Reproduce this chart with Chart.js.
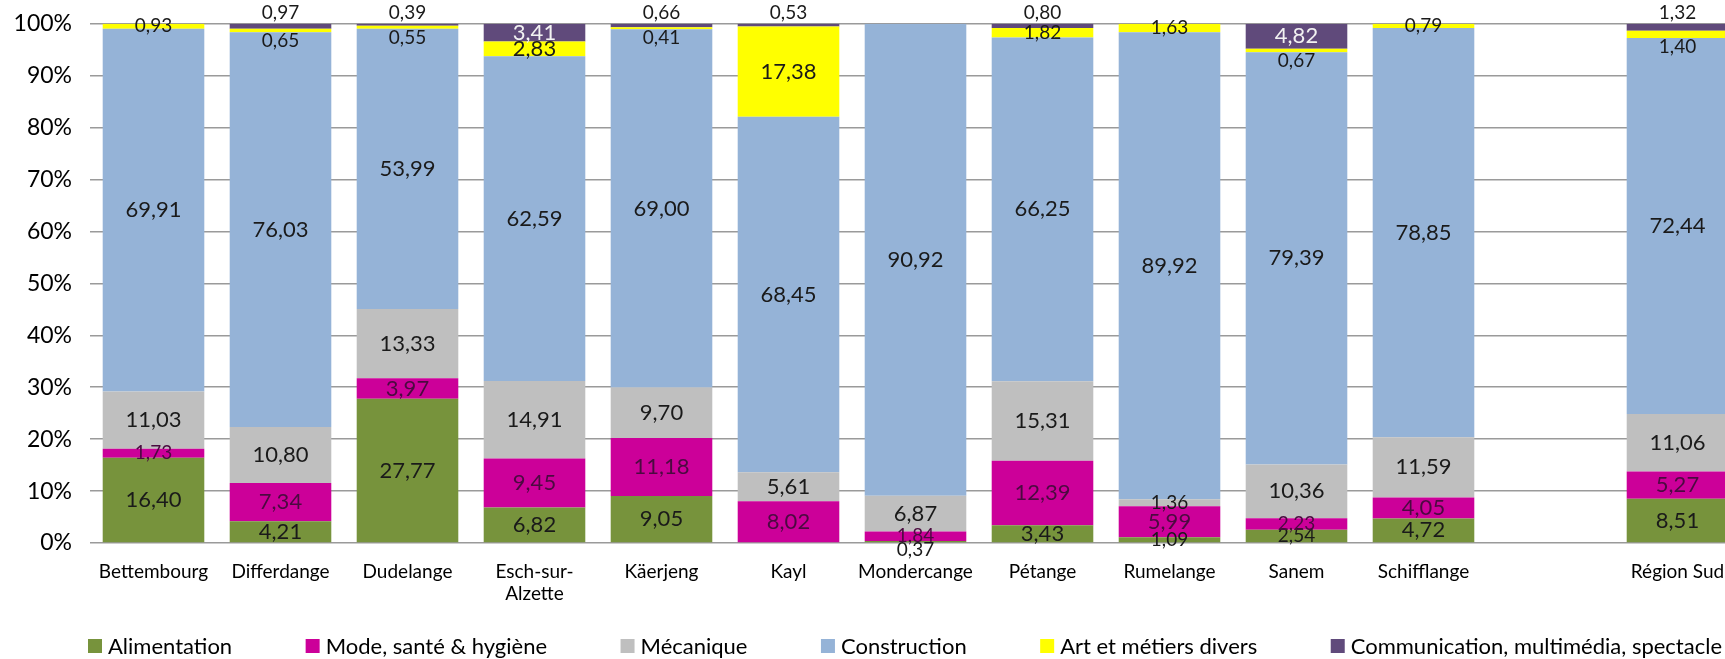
<!DOCTYPE html>
<html><head><meta charset="utf-8">
<script src="https://cdn.jsdelivr.net/npm/chart.js@4.4.1/dist/chart.umd.min.js"></script>
<style>
html,body{margin:0;padding:0;background:#fff;overflow:hidden;}
#wrap{position:absolute;left:0;top:-8px;width:1745px;height:667px;}
</style></head><body>
<div id="wrap"><canvas id="c"></canvas></div>
<script>
const categories = ['Bettembourg','Differdange','Dudelange',['Esch-sur-','Alzette'],'Käerjeng','Kayl','Mondercange','Pétange','Rumelange','Sanem','Schifflange','','Région Sud'];
const seriesNames = ['Alimentation','Mode, santé & hygiène','Mécanique','Construction','Art et métiers divers','Communication, multimédia, spectacle'];
const alimentation  = [16.40, 4.21, 27.77, 6.82, 9.05, 0, 0.37, 3.43, 1.09, 2.54, 4.72, null, 8.51];
const mode          = [1.73, 7.34, 3.97, 9.45, 11.18, 8.02, 1.84, 12.39, 5.99, 2.23, 4.05, null, 5.27];
const mecanique     = [11.03, 10.80, 13.33, 14.91, 9.70, 5.61, 6.87, 15.31, 1.36, 10.36, 11.59, null, 11.06];
const construction  = [69.91, 76.03, 53.99, 62.59, 69.00, 68.45, 90.92, 66.25, 89.92, 79.39, 78.85, null, 72.44];
const art           = [0.93, 0.65, 0.55, 2.83, 0.41, 17.38, 0, 1.82, 1.63, 0.67, 0.79, null, 1.40];
const communication = [0, 0.97, 0.39, 3.41, 0.66, 0.53, 0, 0.80, 0, 4.82, 0, null, 1.32];
const yTicks = [0, 10, 20, 30, 40, 50, 60, 70, 80, 90, 100];

const seriesData = [alimentation, mode, mecanique, construction, art, communication];
const colors = ['#77933c', '#cc0099', '#bfbfbf', '#95b3d7', '#ffff00', '#604a7b'];
const labelColors = ['#1a1a1a', '#4b0a40', '#1a1a1a', '#1a1a1a', '#1a1a1a', '#f2f2f2'];
const FONT = 'Lato, "Open Sans", sans-serif';

const fmt = v => v.toFixed(2).replace('.', ',');

const valuePlugin = {
  id: 'values',
  afterDatasetsDraw(chart) {
    const ctx = chart.ctx;
    chart.data.datasets.forEach((ds, di) => {
      const meta = chart.getDatasetMeta(di);
      meta.data.forEach((bar, j) => {
        const v = ds.data[j];
        if (!v) return;
        const top = Math.min(bar.y, bar.base), bottom = Math.max(bar.y, bar.base);
        let y = (top + bottom) / 2;
        let color = labelColors[di];
        const small = (bottom - top) < 14;
        const size = small ? 19 : 22;
        if (di === 5 && v < 2) { y = top - 11; color = '#1a1a1a'; }
        if (di === 4 && v < 1.5 && communication[j] > 0) { y = bottom + 9; }
        if (di === 0 && v < 0.5) { y = bottom + 8; }
        ctx.save();
        ctx.font = size + 'px ' + FONT;
        ctx.fillStyle = color;
        ctx.textAlign = 'center';
        ctx.textBaseline = 'middle';
        ctx.fillText(fmt(v), bar.x, y);
        ctx.restore();
      });
    });
  }
};

const legendPlugin = {
  id: 'customLegend',
  afterDraw(chart) {
    const ctx = chart.ctx;
    const box = 14, boxGap = 6, startX = 88, endX = 1722, cy = 654;
    ctx.save();
    ctx.font = '22px ' + FONT;
    const widths = chart.data.datasets.map(ds => box + boxGap + ctx.measureText(ds.label).width);
    const total = widths.reduce((a, b) => a + b, 0);
    const gap = (endX - startX - total) / (widths.length - 1);
    let x = startX;
    chart.data.datasets.forEach((ds, i) => {
      ctx.fillStyle = ds.backgroundColor;
      ctx.fillRect(x, cy - box / 2, box, box);
      ctx.fillStyle = '#000';
      ctx.textAlign = 'left';
      ctx.textBaseline = 'middle';
      ctx.fillText(ds.label, x + box + boxGap, cy + 1);
      x += widths[i] + gap;
    });
    ctx.restore();
  }
};

new Chart(document.getElementById('c'), {
  type: 'bar',
  data: {
    labels: categories,
    datasets: seriesData.map((d, i) => ({
      label: seriesNames[i],
      data: d,
      backgroundColor: colors[i],
      borderWidth: 0,
      categoryPercentage: 0.8,
      barPercentage: 1.0
    }))
  },
  options: {
    responsive: true,
    maintainAspectRatio: false,
    animation: false,
    layout: { padding: { top: 14, right: 4, left: 0, bottom: 0 } },
    plugins: { legend: { display: false }, tooltip: { enabled: false } },
    scales: {
      x: {
        stacked: true,
        grid: { display: false },
        border: { display: false },
        ticks: { font: { family: FONT, size: 19 }, color: '#000', padding: 9, maxRotation: 0, autoSkip: false },
        afterFit(scale) { scale.height = 116; }
      },
      y: {
        stacked: true,
        min: 0, max: 100,
        afterBuildTicks(scale) { scale.ticks = yTicks.map(v => ({ value: v })); },
        grid: { color: '#9a9a9a', lineWidth: 1.5, drawTicks: false },
        border: { display: false },
        ticks: { font: { family: FONT, size: 23 }, color: '#000', padding: 18, callback: v => v + '%' },
        afterFit(scale) { scale.width = 90; }
      }
    }
  },
  plugins: [valuePlugin, legendPlugin]
});
</script>
</body></html>
